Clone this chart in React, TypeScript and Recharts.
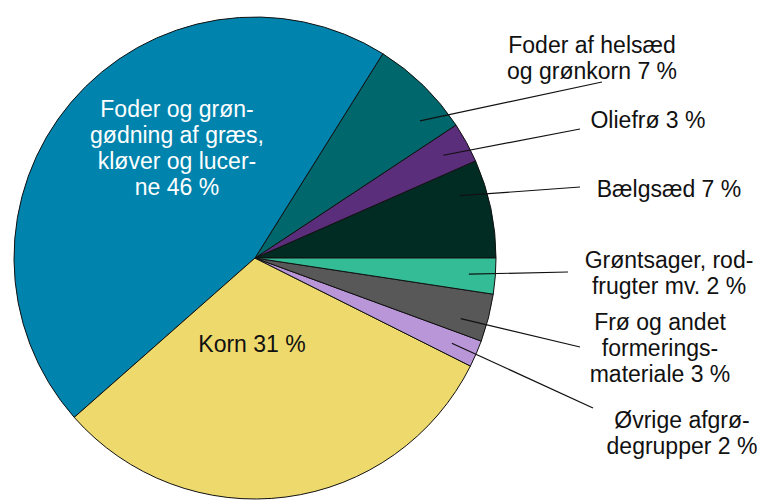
import { PieChart, Pie, Cell } from 'recharts';

// slices in drawing order, counter-clockwise from 3 o'clock
const CROPS = ['Bælgsæd', 'Oliefrø', 'Helsæd', 'Græs', 'Korn', 'Øvrige', 'Frø', 'Grøntsager'];
const SHARES = [6.6, 2.7, 6.8, 45.4, 31.1, 1.8, 3.2, 2.4];
const LABELS = [
  ['Bælgsæd 7 %'],
  ['Oliefrø 3 %'],
  ['Foder af helsæd', 'og grønkorn 7 %'],
  ['Foder og grøn-', 'gødning af græs,', 'kløver og lucer-', 'ne 46 %'],
  ['Korn 31 %'],
  ['Øvrige afgrø-', 'degrupper 2 %'],
  ['Frø og andet', 'formerings-', 'materiale 3 %'],
  ['Grøntsager, rod-', 'frugter mv. 2 %'],
];
const COLORS = ['#002c23', '#5a2e7b', '#00676c', '#0084ad', '#eed96c', '#b996d8', '#585858', '#34bc96'];

// label placement: text centre x, first baseline y, leader line end (null = inside the slice),
// shift = small angle nudge (deg) for where the leader starts in the slice
const LAYOUT = [
  { x: 669, y: 197, end: [580, 187], shift: 5, fill: '#111' },
  { x: 648, y: 128, end: [580, 129], shift: 0, fill: '#111' },
  { x: 592, y: 53, end: [602, 82], shift: -6, fill: '#111' },
  { x: 177, y: 117, end: null, shift: 0, fill: '#fff' },
  { x: 252, y: 352, end: null, shift: 0, fill: '#111' },
  { x: 682, y: 428, end: [593, 408], shift: 0, fill: '#111' },
  { x: 660, y: 330, end: [580, 347], shift: -2, fill: '#111' },
  { x: 669, y: 268, end: [568, 272], shift: 0, fill: '#111' },
];

const data = CROPS.map((name, i) => ({ name, value: SHARES[i] }));

const RAD = Math.PI / 180;

function SliceLabel(props: any) {
  const { cx, cy, midAngle, outerRadius, index } = props;
  const lay = LAYOUT[index];
  const lines: string[] = LABELS[index];
  let leader = null;
  if (lay.end) {
    const r = outerRadius * 0.89;
    const a = (midAngle + lay.shift) * RAD;
    const sx = cx + r * Math.cos(-a);
    const sy = cy + r * Math.sin(-a);
    leader = <line x1={sx} y1={sy} x2={lay.end[0]} y2={lay.end[1]} stroke="#111" strokeWidth={1.2} />;
  }
  return (
    <g>
      {leader}
      <text x={lay.x} y={lay.y} textAnchor="middle" fill={lay.fill} fontSize={23} fontFamily="'Liberation Sans', Arial, sans-serif">
        {lines.map((t, i) => (
          <tspan key={i} x={lay.x} dy={i === 0 ? 0 : 26}>{t}</tspan>
        ))}
      </text>
    </g>
  );
}

export default function App() {
  return (
    <div style={{ position: 'absolute', left: 0, top: 0, width: 761, height: 500, background: '#fff' }}>
      <PieChart width={761} height={500} margin={{ top: 0, right: 0, bottom: 0, left: 0 }}>
        <Pie
          data={data}
          dataKey="value"
          cx={255}
          cy={258}
          outerRadius={241}
          startAngle={0}
          endAngle={360}
          stroke="#111"
          strokeWidth={1}
          label={SliceLabel}
          labelLine={false}
          isAnimationActive={false}
        >
          {data.map((_d, i) => (
            <Cell key={`cell-${i}`} fill={COLORS[i]} />
          ))}
        </Pie>
      </PieChart>
    </div>
  );
}
